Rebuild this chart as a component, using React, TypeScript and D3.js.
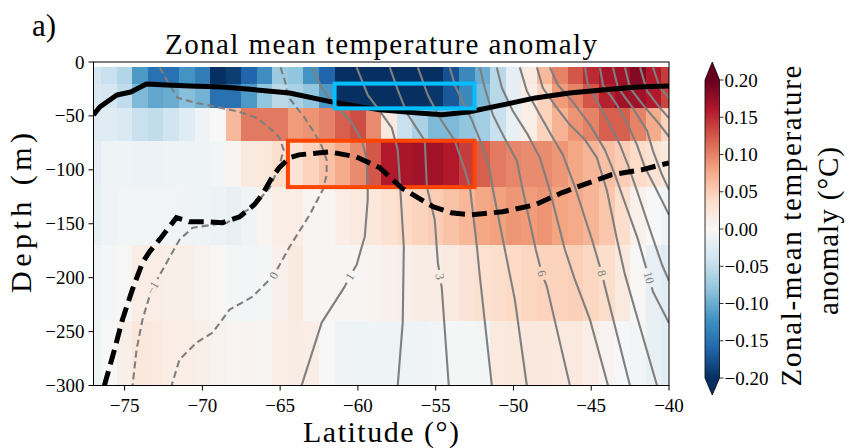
import React from "react";
import * as d3 from "d3";

// ---------------- data ----------------
const latitudes = [-77, -76, -75, -74, -73, -72, -71, -70, -69, -68, -67, -66, -65, -64, -63, -62, -61, -60, -59, -58, -57, -56, -55, -54, -53, -52, -51, -50, -49, -48, -47, -46, -45, -44, -43, -42, -41, -40];
// depth layer edges (m)
const depthEdges = [-5, -20, -43, -73, -116, -170, -240, -300];

// anomaly per layer (°C), one value per latitude
const layer5to20 = [-0.035, -0.045, -0.06, -0.115, -0.15, -0.15, -0.12, -0.14, -0.2, -0.19, -0.16, -0.125, -0.075, -0.08, -0.12, -0.16, -0.2, -0.2, -0.2, -0.2, -0.2, -0.2, -0.2, -0.175, -0.13, -0.1, -0.055, -0.02, 0.02, 0.065, 0.1, 0.125, 0.15, 0.165, 0.17, 0.185, 0.16, 0.14];
const layer20to43 = [-0.03, -0.035, -0.05, -0.09, -0.105, -0.1, -0.085, -0.095, -0.15, -0.15, -0.115, -0.08, -0.055, -0.065, -0.08, -0.115, -0.2, -0.2, -0.2, -0.2, -0.2, -0.2, -0.195, -0.17, -0.13, -0.09, -0.055, -0.02, 0.015, 0.045, 0.085, 0.1, 0.125, 0.155, 0.17, 0.17, 0.16, 0.135];
const layer43to73 = [-0.025, -0.025, -0.03, -0.045, -0.05, -0.04, -0.025, -0.01, 0.0, 0.065, 0.105, 0.105, 0.105, 0.085, 0.09, 0.1, 0.12, 0.13, 0.095, 0.02, -0.045, -0.065, -0.09, -0.09, -0.08, -0.07, -0.045, -0.015, 0.015, 0.045, 0.07, 0.09, 0.1, 0.12, 0.12, 0.1, 0.075, 0.045];
const layer73to116 = [-0.02, -0.01, -0.01, -0.012, -0.012, -0.01, -0.01, -0.01, -0.005, 0.005, 0.02, 0.022, 0.035, 0.03, 0.045, 0.06, 0.075, 0.095, 0.125, 0.16, 0.165, 0.17, 0.17, 0.16, 0.14, 0.12, 0.105, 0.098, 0.095, 0.095, 0.088, 0.078, 0.068, 0.06, 0.05, 0.038, 0.03, 0.02];
const layer116to170 = [-0.018, -0.008, -0.005, -0.005, -0.006, -0.007, -0.008, -0.01, -0.012, -0.015, -0.008, 0.005, 0.015, 0.015, 0.005, 0.003, 0.015, 0.02, 0.022, 0.03, 0.04, 0.045, 0.05, 0.058, 0.067, 0.078, 0.082, 0.088, 0.085, 0.09, 0.08, 0.076, 0.068, 0.055, 0.036, 0.01, 0.0, -0.008];
const layer170to240 = [-0.01, -0.004, 0.002, 0.015, 0.014, 0.012, 0.012, 0.008, 0.002, -0.003, -0.005, -0.003, 0.01, 0.02, 0.004, 0.003, 0.003, 0.003, 0.006, 0.01, 0.011, 0.016, 0.016, 0.02, 0.027, 0.032, 0.036, 0.04, 0.043, 0.045, 0.046, 0.048, 0.043, 0.036, 0.02, 0.002, -0.017, -0.025];
const layer240to300 = [-0.01, 0.0, 0.012, 0.022, 0.02, 0.015, 0.014, 0.012, 0.008, 0.005, 0.006, 0.005, 0.014, 0.016, 0.014, 0.0, -0.008, -0.01, -0.009, -0.009, -0.01, -0.008, -0.007, -0.004, -0.003, -0.005, 0.02, 0.022, 0.021, 0.022, 0.02, 0.02, 0.015, 0.006, -0.002, -0.005, -0.015, -0.022];

// temperature contours [lat, depth]
const isoM1: [number, number][] = [[-72.75, -5], [-72.11, -21.3], [-71.59, -33.3], [-70.37, -38], [-69.08, -41.7], [-67.6, -46.3], [-66.51, -51.9], [-65.67, -61.1], [-65.03, -70.4], [-64.78, -81.5], [-65.03, -95.4], [-65.67, -116.7], [-66.77, -134.3], [-68.44, -149.1], [-70.63, -153.7], [-71.47, -164.8], [-72.3, -186.1], [-73.27, -211.1], [-73.85, -238.9], [-74.23, -266.7], [-74.49, -300]];
const iso0: [number, number][] = [[-64.97, -5], [-64.64, -20.4], [-64.52, -31.5], [-64.07, -39.8], [-63.42, -51.9], [-62.84, -64.8], [-62.33, -77.8], [-62.01, -90.7], [-62.01, -104.6], [-62.26, -118.5], [-63.1, -141.7], [-64.39, -171.3], [-65.42, -198.1], [-66.77, -217.6], [-68.25, -229.6], [-69.34, -250.9], [-70.37, -260.2], [-71.47, -275.9], [-71.98, -300]];
const iso1: [number, number][] = [[-62.91, -5], [-62.33, -24.1], [-61.49, -39.8], [-60.53, -53.7], [-59.75, -72.2], [-59.43, -90.7], [-59.37, -109.3], [-59.37, -127.8], [-59.56, -162], [-59.75, -171.3], [-60.08, -188], [-60.53, -199.1], [-60.85, -208.3], [-62.33, -241.7], [-63.62, -300]];
const iso2: [number, number][] = [[-60.08, -5], [-59.37, -30.6], [-58.6, -45.4], [-57.82, -61.1], [-57.44, -81.5], [-57.31, -109.3], [-57.05, -171.3], [-57.12, -241.7], [-57.44, -300]];
const iso3: [number, number][] = [[-57.95, -5], [-57.44, -25.9], [-56.86, -47.2], [-55.7, -73.1], [-55.57, -115.7], [-55.06, -146.3], [-54.86, -186.1], [-54.61, -209.3], [-54.16, -300]];
const iso4: [number, number][] = [[-56.15, -5], [-55.51, -30.6], [-54.73, -51.9], [-53.77, -73.1], [-53.13, -100], [-52.8, -115.7], [-52.35, -171.3], [-52.16, -199.1], [-51.39, -300]];
const iso5: [number, number][] = [[-54.09, -5], [-53.77, -21.3], [-53.32, -35.2], [-52.68, -53.7], [-52.03, -76.9], [-51.52, -100], [-51.32, -118.5], [-50.55, -174.1], [-49.91, -220.4], [-49.14, -300]];
const iso6: [number, number][] = [[-52.16, -5], [-51.84, -24.1], [-51.32, -49.1], [-50.68, -67.6], [-49.78, -91.7], [-49.39, -119.4], [-48.56, -174.1], [-48.17, -196.3], [-47.85, -208.3], [-46.37, -300]];
const iso7: [number, number][] = [[-51.07, -5], [-50.74, -24.1], [-50.04, -45.4], [-49.07, -67.6], [-48.3, -88.9], [-47.66, -119.4], [-46.69, -174.1], [-46.05, -201.9], [-45.08, -238.9], [-43.92, -300]];
const iso8: [number, number][] = [[-49.59, -5], [-49.14, -26.9], [-48.3, -49.1], [-47.46, -70.4], [-46.82, -86.1], [-46.05, -115.7], [-44.95, -164.8], [-44.31, -196.3], [-44.12, -208.3], [-42.51, -300]];
const iso9: [number, number][] = [[-48.49, -5], [-48.11, -24.1], [-47.21, -42.6], [-46.37, -58.3], [-45.4, -72.2], [-44.63, -88.9], [-43.99, -119.4], [-43.34, -164.8], [-42.83, -197.2], [-42.19, -229.6], [-40.77, -300]];
const iso10: [number, number][] = [[-47.66, -5], [-47.14, -21.3], [-46.24, -36.1], [-45.08, -58.3], [-44.12, -81.5], [-43.47, -104.6], [-43.02, -123.1], [-41.99, -164.8], [-41.29, -200], [-41.03, -213], [-40, -242]];
const iso11: [number, number][] = [[-45.4, -5], [-45.21, -21.3], [-44.63, -36.1], [-43.8, -58.3], [-43.15, -76.9], [-42.64, -95.4], [-42.06, -119.4], [-41.22, -155.6], [-40.45, -188], [-40, -203]];
const iso12: [number, number][] = [[-44.44, -5], [-44.25, -21.3], [-43.34, -39.8], [-42.64, -58.3], [-42.06, -76.9], [-41.54, -98.1], [-40.9, -115.7], [-40, -141.7]];
const iso13: [number, number][] = [[-43.6, -5], [-43.28, -24.1], [-42.32, -42.6], [-41.41, -63.9], [-41.03, -82.4], [-40.45, -104.6], [-40, -118.5]];
const iso14: [number, number][] = [[-42.83, -5], [-42.51, -24.1], [-41.67, -39.8], [-40.58, -58.3], [-40, -69.4]];
const iso15: [number, number][] = [[-41.86, -5], [-41.41, -26.9], [-40.58, -42.6], [-40, -51.9]];
const iso16: [number, number][] = [[-41.03, -5], [-40.58, -24.1], [-40, -33.3]];

const isotherms = [
  { level: -1, pts: isoM1 }, { level: 0, pts: iso0 }, { level: 1, pts: iso1 }, { level: 2, pts: iso2 },
  { level: 3, pts: iso3 }, { level: 4, pts: iso4 }, { level: 5, pts: iso5 }, { level: 6, pts: iso6 },
  { level: 7, pts: iso7 }, { level: 8, pts: iso8 }, { level: 9, pts: iso9 }, { level: 10, pts: iso10 },
  { level: 11, pts: iso11 }, { level: 12, pts: iso12 }, { level: 13, pts: iso13 }, { level: 14, pts: iso14 },
  { level: 15, pts: iso15 }, { level: 16, pts: iso16 },
];
const isoLabels = [
  { level: -1, text: "-1", lat: -73.0, depth: -211 },
  { level: 0, text: "0", lat: -65.42, depth: -198 },
  { level: 1, text: "1", lat: -60.53, depth: -199 },
  { level: 3, text: "3", lat: -54.7, depth: -199 },
  { level: 6, text: "6", lat: -48.17, depth: -196 },
  { level: 8, text: "8", lat: -44.31, depth: -196 },
  { level: 10, text: "10", lat: -41.29, depth: -200 },
];

// mixed layer depth (solid) and second depth line (dashed)
const solidLine: [number, number][] = [[-77, -49], [-76.6, -41.7], [-75.5, -30.6], [-74.6, -27.8], [-73.6, -20.4], [-72.3, -21.3], [-70.8, -22.2], [-68.7, -23.1], [-66.5, -25.9], [-64.4, -28.7], [-61.7, -37], [-58.6, -44.4], [-56.1, -47.2], [-54.6, -49], [-52.9, -46.3], [-50.7, -39.8], [-48.6, -33.3], [-46.4, -28.7], [-44.3, -25.9], [-42.1, -23.1], [-40, -22.2]];
const dashedLine: [number, number][] = [[-76.3, -300], [-75.65, -266.7], [-75.14, -238.9], [-74.5, -211], [-73.85, -186], [-73.4, -176], [-72.76, -164.8], [-71.67, -144.4], [-70.84, -148.1], [-69.75, -148.1], [-68.7, -149], [-67.6, -143.5], [-66.67, -132.4], [-66.15, -123], [-65.6, -109], [-65.06, -98], [-64.4, -88.9], [-63.8, -86.1], [-61.85, -83.3], [-60.1, -88], [-58.6, -98], [-57.2, -116.7], [-55.2, -134], [-54, -139.8], [-52.7, -141.7], [-50.7, -138.9], [-48.6, -132.4], [-46.9, -121.3], [-45.35, -113], [-43.7, -104.6], [-41.76, -100], [-40, -93.5]];

// boxes: [lat0, lat1, depthTop, depthBottom]
const cyanBox = [-61.5, -52.5, -20, -43];
const orangeBox = [-64.5, -52.5, -73, -116];

const xTicks = [-75, -70, -65, -60, -55, -50, -45, -40];
const yTicks = [0, -50, -100, -150, -200, -250, -300];
const cbTicks = [0.2, 0.15, 0.1, 0.05, 0, -0.05, -0.1, -0.15, -0.2];
const rdbu = ["#053061", "#2166ac", "#4393c3", "#92c5de", "#d1e5f0", "#f7f7f7", "#fddbc7", "#f4a582", "#d6604d", "#b2182b", "#67001f"];

const FONT = "'Liberation Serif', 'DejaVu Serif', serif";
const minus = (s: string) => s.replace("-", "\u2212");

function project(pts: [number, number][], px: number, py: number) {
  let best = { d: Infinity, x: px, y: py, ang: 0 };
  for (let i = 0; i < pts.length - 1; i++) {
    const [x1, y1] = pts[i];
    const [x2, y2] = pts[i + 1];
    const dx = x2 - x1, dy = y2 - y1;
    const L = dx * dx + dy * dy;
    let t = L ? ((px - x1) * dx + (py - y1) * dy) / L : 0;
    t = Math.max(0, Math.min(1, t));
    const qx = x1 + t * dx, qy = y1 + t * dy;
    const d = (qx - px) ** 2 + (qy - py) ** 2;
    if (d < best.d) {
      let ang = (Math.atan2(dy, dx) * 180) / Math.PI;
      if (ang > 90) ang -= 180;
      if (ang < -90) ang += 180;
      best = { d, x: qx, y: qy, ang };
    }
  }
  return best;
}

export default function App() {
  const L = 93.5, R = 669, T = 62, B = 385.5;
  const x = d3.scaleLinear().domain([-77, -40]).range([L, R]);
  const y = d3.scaleLinear().domain([0, -300]).range([T, B]);
  const color = d3
    .scaleLinear<string>()
    .domain(rdbu.map((_, i) => -0.2 + i * 0.04))
    .range(rdbu)
    .interpolate(d3.interpolateRgb)
    .clamp(true);
  const line = d3.line<[number, number]>().x((d) => x(d[0])).y((d) => y(d[1]));
  const layers = [layer5to20, layer20to43, layer43to73, layer73to116, layer116to170, layer170to240, layer240to300];

  const cells: any[] = [];
  layers.forEach((vals, r) => {
    vals.forEach((v, c) => {
      const lat = latitudes[c];
      const x0 = x(lat - 0.5), x1 = x(lat + 0.5);
      const y0 = y(depthEdges[r]), y1 = y(depthEdges[r + 1]);
      cells.push(<rect key={`${r}-${c}`} x={x0} y={y0} width={x1 - x0 + 0.4} height={y1 - y0 + 0.4} fill={color(v)} />);
    });
  });

  const labelInfo = isoLabels.map((lb) => {
    const iso = isotherms.find((s) => s.level === lb.level)!;
    const pix = iso.pts.map((p) => [x(p[0]), y(p[1])] as [number, number]);
    const pr = project(pix, x(lb.lat), y(lb.depth));
    return { ...lb, px: pr.x, py: pr.y, ang: pr.ang, w: lb.text.length * 6.5 + 7 };
  });

  // colorbar
  const cbX = 705, cbW = 14.5, cbTop = 80, cbBot = 378;
  const cy = d3.scaleLinear().domain([-0.2, 0.2]).range([cbBot, cbTop]);
  const gradStops = d3.range(0, 1.0001, 0.05);

  return (
    <svg width={847} height={448} style={{ position: "absolute", left: 0, top: 0, background: "#fff" }} fontFamily={FONT}>
      <defs>
        <clipPath id="plotclip">
          <rect x={L} y={T} width={R - L} height={B - T} />
        </clipPath>
        <linearGradient id="cbgrad" x1="0" y1="1" x2="0" y2="0">
          {gradStops.map((t) => (
            <stop key={t} offset={t} stopColor={color(-0.2 + 0.4 * t)} />
          ))}
        </linearGradient>
        <mask id="lblmask" maskUnits="userSpaceOnUse" x={0} y={0} width={847} height={448}>
          <rect x={0} y={0} width={847} height={448} fill="#fff" />
          {labelInfo.map((lb) => (
            <rect key={lb.text} x={-lb.w / 2} y={-6} width={lb.w} height={12} fill="#000" transform={`translate(${lb.px},${lb.py}) rotate(${lb.ang})`} />
          ))}
        </mask>
      </defs>

      <rect x={0} y={0} width={847} height={448} fill="#fff" />

      <g clipPath="url(#plotclip)">
        <g shapeRendering="crispEdges">{cells}</g>
        <g mask="url(#lblmask)">
          {isotherms.map((s) => (
            <path key={s.level} d={line(s.pts) || ""} fill="none" stroke="#7f7f7f" strokeWidth={2.1}
              strokeLinejoin="round" strokeDasharray={s.level <= 0 ? "7,4" : undefined} />
          ))}
        </g>
        {labelInfo.map((lb) => (
          <text key={lb.text} transform={`translate(${lb.px},${lb.py}) rotate(${lb.ang})`} textAnchor="middle" dominantBaseline="central" fontSize={12} fill="#7f7f7f">
            {minus(lb.text)}
          </text>
        ))}
        <rect x={x(orangeBox[0])} y={y(orangeBox[2])} width={x(orangeBox[1]) - x(orangeBox[0])} height={y(orangeBox[3]) - y(orangeBox[2])} fill="none" stroke="#ff4500" strokeWidth={4} />
        <path d={line(dashedLine) || ""} fill="none" stroke="#000" strokeWidth={5} strokeDasharray="15,7" />
        <path d={line(solidLine) || ""} fill="none" stroke="#000" strokeWidth={5} strokeLinejoin="round" />
        <rect x={x(cyanBox[0])} y={y(cyanBox[2])} width={x(cyanBox[1]) - x(cyanBox[0])} height={y(cyanBox[3]) - y(cyanBox[2])} fill="none" stroke="#00bfff" strokeWidth={4} />
      </g>

      {/* frame */}
      <rect x={L} y={T} width={R - L} height={B - T} fill="none" stroke="#000" strokeWidth={1} />

      {/* x axis */}
      {xTicks.map((t) => (
        <g key={t}>
          <line x1={x(t)} x2={x(t)} y1={B} y2={B + 5} stroke="#000" strokeWidth={1} />
          <text x={x(t)} y={B + 20} textAnchor="middle" dominantBaseline="central" fontSize={19}>{minus(String(t))}</text>
        </g>
      ))}
      {/* y axis */}
      {yTicks.map((t) => (
        <g key={t}>
          <line x1={L - 5} x2={L} y1={y(t)} y2={y(t)} stroke="#000" strokeWidth={1} />
          <text x={L - 9} y={y(t)} textAnchor="end" dominantBaseline="central" fontSize={19}>{minus(String(t))}</text>
        </g>
      ))}

      <text x={381} y={442} textAnchor="middle" fontSize={30} textLength={156} lengthAdjust="spacing">Latitude (°)</text>
      <text transform="translate(31,213) rotate(-90)" textAnchor="middle" fontSize={30} textLength={160} lengthAdjust="spacing">Depth (m)</text>
      <text x={381} y={54} textAnchor="middle" fontSize={29} textLength={432} lengthAdjust="spacing">Zonal mean temperature anomaly</text>
      <text x={32} y={36} fontSize={31}>a)</text>

      {/* colorbar */}
      <rect x={cbX} y={cbTop} width={cbW} height={cbBot - cbTop} fill="url(#cbgrad)" />
      <path d={`M${cbX},${cbTop} L${cbX + cbW / 2},62 L${cbX + cbW},${cbTop} Z`} fill={rdbu[10]} />
      <path d={`M${cbX},${cbBot} L${cbX + cbW / 2},395 L${cbX + cbW},${cbBot} Z`} fill={rdbu[0]} />
      <path d={`M${cbX},${cbTop} L${cbX + cbW / 2},62 L${cbX + cbW},${cbTop} L${cbX + cbW},${cbBot} L${cbX + cbW / 2},395 L${cbX},${cbBot} Z`} fill="none" stroke="#000" strokeWidth={0.8} />
      {cbTicks.map((t) => (
        <g key={t}>
          <line x1={cbX + cbW} x2={cbX + cbW + 4} y1={cy(t)} y2={cy(t)} stroke="#000" strokeWidth={0.8} />
          <text x={cbX + cbW + 5} y={cy(t)} dominantBaseline="central" fontSize={19}>{minus(t.toFixed(2))}</text>
        </g>
      ))}
      <text transform="translate(791,226) rotate(-90)" textAnchor="middle" dominantBaseline="central" fontSize={29} textLength={321} lengthAdjust="spacing">Zonal-mean temperature</text>
      <text transform="translate(828,231) rotate(-90)" textAnchor="middle" dominantBaseline="central" fontSize={29} textLength={168} lengthAdjust="spacing">anomaly (°C)</text>
    </svg>
  );
}
